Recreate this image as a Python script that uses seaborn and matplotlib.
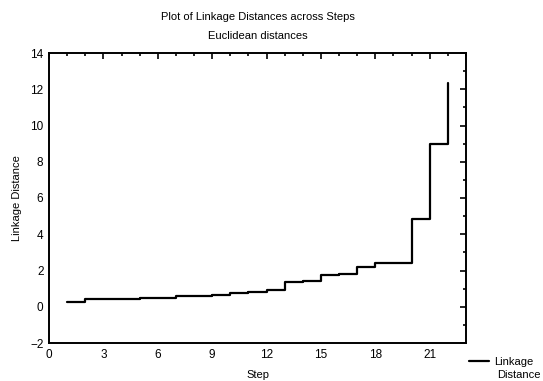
import numpy as np
import pandas as pd
import seaborn as sns
import matplotlib.pyplot as plt
import matplotlib.ticker as ticker

# linkage distances, one per amalgamation step
steps = list(range(1, 23))
distances = [0.25, 0.41, 0.41, 0.41, 0.50, 0.50, 0.59, 0.59, 0.67, 0.78, 0.83,
             0.92, 1.36, 1.41, 1.75, 1.80, 2.18, 2.40, 2.42, 4.86, 9.00, 12.33]

df = pd.DataFrame({'Step': steps, 'Linkage Distance': distances})

sns.set_style('white')
plt.rcParams['font.family'] = ['Liberation Sans', 'DejaVu Sans']
plt.rcParams['text.color'] = 'black'
plt.rcParams['axes.labelcolor'] = 'black'
plt.rcParams['xtick.color'] = 'black'
plt.rcParams['ytick.color'] = 'black'

fig = plt.figure(figsize=(5.43, 3.81), dpi=100)
ax = fig.add_axes([49 / 543, 1 - 343 / 381, (466 - 49) / 543, (343 - 53) / 381])

sns.lineplot(data=df, x='Step', y='Linkage Distance', drawstyle='steps-post',
             color='black', linewidth=1.6, ax=ax, label='Linkage')

ax.set_xlim(0, 23)
ax.set_ylim(-2, 14)
ax.xaxis.set_major_locator(ticker.MultipleLocator(3))
ax.xaxis.set_minor_locator(ticker.MultipleLocator(1))
ax.yaxis.set_major_locator(ticker.MultipleLocator(2))
ax.yaxis.set_minor_locator(ticker.MultipleLocator(1))
ax.tick_params(which='both', direction='in', top=True, right=True,
               labelsize=8.5, width=1.2, color='black', labelcolor='black')
ax.tick_params(which='major', length=4, pad=4)
ax.tick_params(which='minor', length=2)
for s in ax.spines.values():
    s.set_linewidth(1.4)
    s.set_color('black')

ax.set_xlabel('')
ax.set_ylabel('Linkage Distance', fontsize=8, labelpad=6)

cx = (49 + 466) / 2 / 543
fig.text(cx, 1 - 17 / 381, 'Plot of Linkage Distances across Steps', ha='center', va='center', fontsize=8)
fig.text(cx, 1 - 36 / 381, 'Euclidean distances', ha='center', va='center', fontsize=8)
fig.text(cx, 1 - 380 / 381, 'Step', ha='center', va='bottom', fontsize=8)

ax.legend(loc='center left', bbox_to_anchor=(469 / 543, 1 - 362 / 381),
          bbox_transform=fig.transFigure, frameon=False, fontsize=8,
          handlelength=1.8, handletextpad=0.5, borderpad=0, borderaxespad=0)
fig.text(497 / 543, 1 - 380 / 381, 'Distance', ha='left', va='bottom', fontsize=8)

fig.savefig('out.png', dpi=100)
